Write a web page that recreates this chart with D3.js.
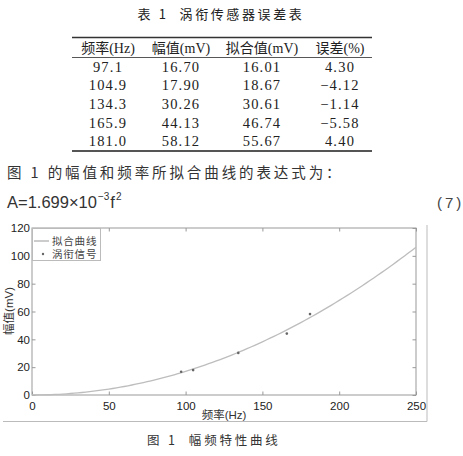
<!DOCTYPE html>
<html>
<head>
<meta charset="utf-8">
<script src="https://cdn.jsdelivr.net/npm/d3@7"></script>
<style>
  html, body { margin: 0; padding: 0; background: #fff; }
  svg { display: block; }
  text { white-space: pre; }
</style>
</head>
<body>
<svg id="page" width="463" height="456"></svg>
<script>
// Measured vortex-sensor samples: frequency (Hz), amplitude (mV), fitted amplitude (mV), error (%)
const freqs = [97.1, 104.9, 134.3, 165.9, 181.0];
const amps = [16.70, 17.90, 30.26, 44.13, 58.12];
const fitted = [16.01, 18.67, 30.61, 46.74, 55.67];
const errors = [4.30, -4.12, -1.14, -5.58, 4.40];
const headers = ["频率(Hz)", "幅值(mV)", "拟合值(mV)", "误差(%)"];
// Fit A = k * f^2
const fitCoef = 1.699e-3;
const xTicks = [0, 50, 100, 150, 200, 250];
const yTicks = [0, 20, 40, 60, 80, 100, 120];
const legendLabels = ["拟合曲线", "涡衔信号"];

const svg = d3.select("#page");
const serif = "'Liberation Serif', 'DejaVu Serif', 'Noto Sans CJK SC', serif";
const cjk = "'Noto Sans CJK SC', 'Liberation Serif', serif";
const sans = "'Liberation Sans', Arial, 'Noto Sans CJK SC', sans-serif";

// ---------- Table ----------
svg.append("text")
  .attr("x", 221).attr("y", 19)
  .attr("text-anchor", "middle")
  .attr("font-family", cjk).attr("font-size", 13)
  .attr("letter-spacing", 2.6)
  .attr("fill", "#222")
  .text("表 1  涡衔传感器误差表");

const tX0 = 72, tX1 = 372;
const colX = [108, 181, 262, 340];
const rowY = [72, 90, 109, 128, 146];

svg.append("line").attr("x1", tX0).attr("x2", tX1).attr("y1", 37.5).attr("y2", 37.5)
  .attr("stroke", "#333").attr("stroke-width", 1.4);
svg.append("line").attr("x1", tX0).attr("x2", tX1).attr("y1", 57.5).attr("y2", 57.5)
  .attr("stroke", "#444").attr("stroke-width", 0.9);
svg.append("line").attr("x1", tX0).attr("x2", tX1).attr("y1", 151).attr("y2", 151)
  .attr("stroke", "#555").attr("stroke-width", 2.2);

svg.append("g").selectAll("text").data(headers).join("text")
  .attr("x", (d, i) => colX[i]).attr("y", 53)
  .attr("text-anchor", "middle")
  .attr("font-family", serif).attr("font-size", 14)
  .attr("fill", "#222")
  .text(d => d);

const fmtSigned = v => (v < 0 ? "\u2212" : "") + Math.abs(v).toFixed(2);
const rows = freqs.map((f, i) => [f.toFixed(1), amps[i].toFixed(2), fitted[i].toFixed(2), fmtSigned(errors[i])]);

svg.append("g").selectAll("g").data(rows).join("g")
  .each(function (row, r) {
    d3.select(this).selectAll("text").data(row).join("text")
      .attr("x", (d, c) => colX[c]).attr("y", rowY[r])
      .attr("text-anchor", "middle")
      .attr("font-family", serif).attr("font-size", 14.5)
      .attr("letter-spacing", 1.2)
      .attr("fill", "#222")
      .text(d => d);
  });

// ---------- Body text ----------
svg.append("text")
  .attr("x", 7).attr("y", 178)
  .attr("font-family", cjk).attr("font-size", 14.5)
  .attr("letter-spacing", 2.9)
  .attr("fill", "#333")
  .text("图 1 的幅值和频率所拟合曲线的表达式为：");

const eq = svg.append("text")
  .attr("x", 7).attr("y", 208)
  .attr("font-family", sans).attr("font-size", 16.5)
  .attr("fill", "#333");
eq.append("tspan").text("A=1.699×10");
eq.append("tspan").attr("font-size", 10).attr("dy", -8).attr("dx", 1).text("−3");
eq.append("tspan").attr("dy", 8).attr("dx", 1).text("f");
eq.append("tspan").attr("font-size", 10).attr("dy", -8).attr("dx", 1).text("2");

svg.append("text")
  .attr("x", 437).attr("y", 208)
  .attr("font-family", sans).attr("font-size", 15)
  .attr("letter-spacing", 3)
  .attr("fill", "#444")
  .text("(7)");

// ---------- Figure frame ----------
svg.append("path")
  .attr("d", "M427,225V421.5H3")
  .attr("fill", "none").attr("stroke", "#bbb").attr("stroke-width", 1);

// ---------- Chart ----------
const x = d3.scaleLinear().domain([0, 250]).range([32, 416]);
const y = d3.scaleLinear().domain([0, 120]).range([395, 228]);
const axisColor = "#999";

const plot = svg.append("g");

// Box
plot.append("rect")
  .attr("x", x(0)).attr("y", y(120))
  .attr("width", x(250) - x(0)).attr("height", y(0) - y(120))
  .attr("fill", "none").attr("stroke", axisColor).attr("stroke-width", 1);

const styleAxis = g => {
  g.select(".domain").remove();
  g.selectAll(".tick line").attr("stroke", axisColor);
  g.selectAll(".tick text").attr("fill", "#222").attr("font-family", sans).attr("font-size", 11.5);
};

plot.append("g").attr("transform", `translate(0,${y(0)})`)
  .call(d3.axisBottom(x).tickValues(xTicks).tickSize(-3.5).tickPadding(4).tickFormat(d3.format("d")))
  .call(styleAxis)
  .call(g => g.selectAll(".tick text").attr("dy", "0.95em"));
plot.append("g").attr("transform", `translate(0,${y(120)})`)
  .call(d3.axisTop(x).tickValues(xTicks).tickSize(-3.5).tickFormat(""))
  .call(styleAxis);
plot.append("g").attr("transform", `translate(${x(0)},0)`)
  .call(d3.axisLeft(y).tickValues(yTicks).tickSize(-3.5).tickPadding(2).tickFormat(d3.format("d")))
  .call(styleAxis);
plot.append("g").attr("transform", `translate(${x(250)},0)`)
  .call(d3.axisRight(y).tickValues(yTicks).tickSize(-3.5).tickFormat(""))
  .call(styleAxis);

// Fitted curve
const curvePts = d3.range(0, 250.001, 2.5).map(f => [f, fitCoef * f * f]);
plot.append("path")
  .datum(curvePts)
  .attr("fill", "none").attr("stroke", "#bdbdbd").attr("stroke-width", 1.3)
  .attr("d", d3.line().x(d => x(d[0])).y(d => y(d[1])));

// Measured points
plot.append("g").selectAll("circle").data(freqs).join("circle")
  .attr("cx", d => x(d)).attr("cy", (d, i) => y(amps[i]))
  .attr("r", 1.3).attr("fill", "#666");

// Axis labels
svg.append("text")
  .attr("x", 224).attr("y", 419)
  .attr("text-anchor", "middle")
  .attr("font-family", sans).attr("font-size", 11.5)
  .attr("fill", "#333")
  .text("频率(Hz)");
svg.append("text")
  .attr("transform", "translate(13,311) rotate(-90)")
  .attr("text-anchor", "middle")
  .attr("font-family", sans).attr("font-size", 11.5)
  .attr("fill", "#333")
  .text("幅值(mV)");

// Legend
const leg = svg.append("g");
leg.append("rect")
  .attr("x", 32.5).attr("y", 228.5).attr("width", 68).attr("height", 32)
  .attr("fill", "#fff").attr("stroke", "#bbb").attr("stroke-width", 1);
leg.append("line").attr("x1", 34).attr("x2", 49).attr("y1", 241).attr("y2", 241)
  .attr("stroke", "#999").attr("stroke-width", 1);
leg.append("circle").attr("cx", 43).attr("cy", 254).attr("r", 1.2).attr("fill", "#666");
leg.selectAll("text").data(legendLabels).join("text")
  .attr("x", 52).attr("y", (d, i) => 244.5 + i * 13.5)
  .attr("font-family", cjk).attr("font-size", 10.5)
  .attr("letter-spacing", 0.8)
  .attr("fill", "#444")
  .text(d => d);

// Caption
svg.append("text")
  .attr("x", 147).attr("y", 445)
  .attr("font-family", cjk).attr("font-size", 12.5)
  .attr("letter-spacing", 2.8)
  .attr("fill", "#333")
  .text("图 1  幅频特性曲线");
</script>
</body>
</html>
